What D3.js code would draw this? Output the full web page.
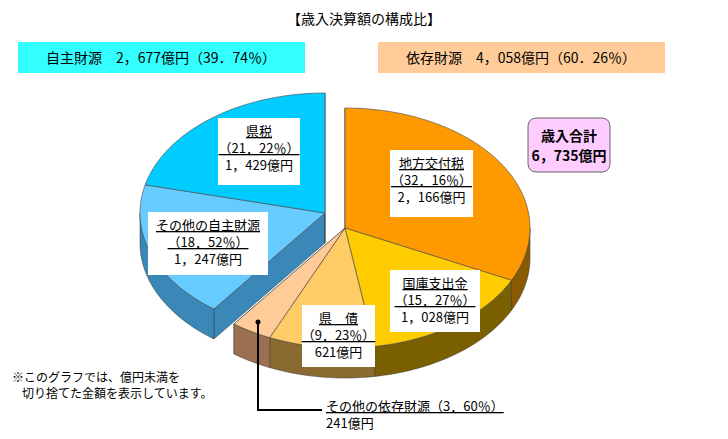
<!DOCTYPE html><html><head><meta charset="utf-8"><script src="https://cdn.jsdelivr.net/npm/d3@7"></script>
<style>body{margin:0;background:#fff}text{font-family:"Noto Sans CJK JP",sans-serif}</style></head><body><svg id="c" width="728" height="439"></svg>
<script>
const names=["地方交付税","国庫支出金","県　債","その他の依存財源","その他の自主財源","県税"];
const values=[2166,1028,621,241,1247,1429];
const pcts=["32.16","15.27","9.23","3.60","18.52","21.22"];
const groups=[1,1,1,1,0,0];
const groupTotals=["2,677","4,058"];
const groupPcts=["39.74","60.26"];
const grandTotal="6,735";
const topColors=["#ff9900","#ffcc00","#ffcc66","#ffcc99","#66ccff","#00ccff"];
const sideColors=["#8a5a00","#7a6000","#8a6a30","#9a7050","#3a88b8","#3a88b8"];
const fw=s=>s.replace(/[.,%()]/g,c=>({".":"．",",":"，","%":"％","(":"（",")":"）"}[c]));
const svg=d3.select("#c");
const pie=d3.pie().sort(null).value(d=>d)(values);
const ang=d3.scaleLinear().domain([0,2*Math.PI]).range([0,2*Math.PI]);
const rx=185,ry=120,depth=30;
const centers=[{x:325,y:213},{x:345,y:228}];
function pt(c,a,dy=0){return [c.x+rx*Math.sin(ang(a)),c.y-ry*Math.cos(ang(a))+dy];}
function arcPts(c,a0,a1,dy=0){const n=Math.max(2,Math.ceil((a1-a0)*40));return d3.range(n+1).map(i=>pt(c,a0+(a1-a0)*i/n,dy));}
const line=d3.line();
[0,1].forEach(g=>{
  const c=centers[g];
  const sl=pie.map((p,i)=>({...p,i})).filter(p=>groups[p.i]===g);
  const ga0=d3.min(sl,p=>p.startAngle),ga1=d3.max(sl,p=>p.endAngle);
  [[ga0,sl.find(p=>p.startAngle===ga0).i],[ga1,sl.find(p=>p.endAngle===ga1).i]].forEach(([a,i])=>{
    const p=pt(c,a);
    svg.append("path").attr("d",line([[c.x,c.y],p,[p[0],p[1]+depth],[c.x,c.y+depth]])+"Z").attr("fill",sideColors[i]).attr("stroke","#333").attr("stroke-width",0.5);
  });
  sl.forEach(p=>{
    const a0=Math.max(p.startAngle,Math.PI/2),a1=Math.min(p.endAngle,1.5*Math.PI);
    if(a1>a0){const top=arcPts(c,a0,a1),bot=arcPts(c,a0,a1,depth).reverse();
      svg.append("path").attr("d",line(top.concat(bot))+"Z").attr("fill",sideColors[p.i]).attr("stroke","#333").attr("stroke-width",0.5);}
  });
  sl.forEach(p=>{
    svg.append("path").attr("d",line([[c.x,c.y]].concat(arcPts(c,p.startAngle,p.endAngle)))+"Z").attr("fill",topColors[p.i]).attr("stroke","#444").attr("stroke-width",0.6);
  });
});
const boxes=[[390,150,83,67],[390,270,90,62],[302,305,73,62],null,[148,212,120,63],[218,118,82,67]];
boxes.forEach((b,i)=>{if(!b)return;
  svg.append("rect").attr("x",b[0]).attr("y",b[1]).attr("width",b[2]).attr("height",b[3]).attr("fill","#fff");
  const cx=b[0]+b[2]/2;
  const lines=[names[i],fw("("+pcts[i]+"%)"),(i===2?String(values[i]):fw(d3.format(",")(values[i])))+"億円"];
  lines.forEach((t,k)=>{
    const tx=svg.append("text").attr("x",cx).attr("y",b[1]+18+k*17).attr("text-anchor","middle").attr("font-size",13).text(t);
    if(k<2)tx.attr("text-decoration","underline");
  });
});
const lp=[258,322];
svg.append("circle").attr("cx",lp[0]).attr("cy",lp[1]).attr("r",2.5).attr("fill","#000");
svg.append("path").attr("d",line([lp,[258,410],[322,410]])).attr("fill","none").attr("stroke","#000").attr("stroke-width",2);
svg.append("text").attr("x",326).attr("y",411).attr("font-size",13).attr("text-decoration","underline").text(names[3]+fw("(3.60%)"));
svg.append("text").attr("x",326).attr("y",428).attr("font-size",13).text("241億円");
svg.append("text").attr("x",364).attr("y",24).attr("text-anchor","middle").attr("font-size",14).text("【歳入決算額の構成比】");
svg.append("rect").attr("x",18).attr("y",42).attr("width",287).attr("height",31).attr("fill","#33ffff");
svg.append("text").attr("x",161).attr("y",63).attr("text-anchor","middle").attr("font-size",14).text("自主財源　"+fw(groupTotals[0])+"億円"+fw("("+groupPcts[0]+"%)"));
svg.append("rect").attr("x",378).attr("y",42).attr("width",287).attr("height",31).attr("fill","#ffcc99");
svg.append("text").attr("x",521).attr("y",63).attr("text-anchor","middle").attr("font-size",14).text("依存財源　"+fw(groupTotals[1])+"億円"+fw("("+groupPcts[1]+"%)"));
svg.append("rect").attr("x",528).attr("y",118).attr("width",82).attr("height",54).attr("rx",8).attr("fill","#ffccff").attr("stroke","#666");
svg.append("text").attr("x",569).attr("y",141).attr("text-anchor","middle").attr("font-size",14).attr("font-weight","bold").text("歳入合計");
svg.append("text").attr("x",569).attr("y",161).attr("text-anchor","middle").attr("font-size",14).attr("font-weight","bold").text(fw(grandTotal)+"億円");
svg.append("text").attr("x",12).attr("y",382).attr("font-size",12).text("※このグラフでは、億円未満を");
svg.append("text").attr("x",22).attr("y",398).attr("font-size",12).text("切り捨てた金額を表示しています。");
</script></body></html>
